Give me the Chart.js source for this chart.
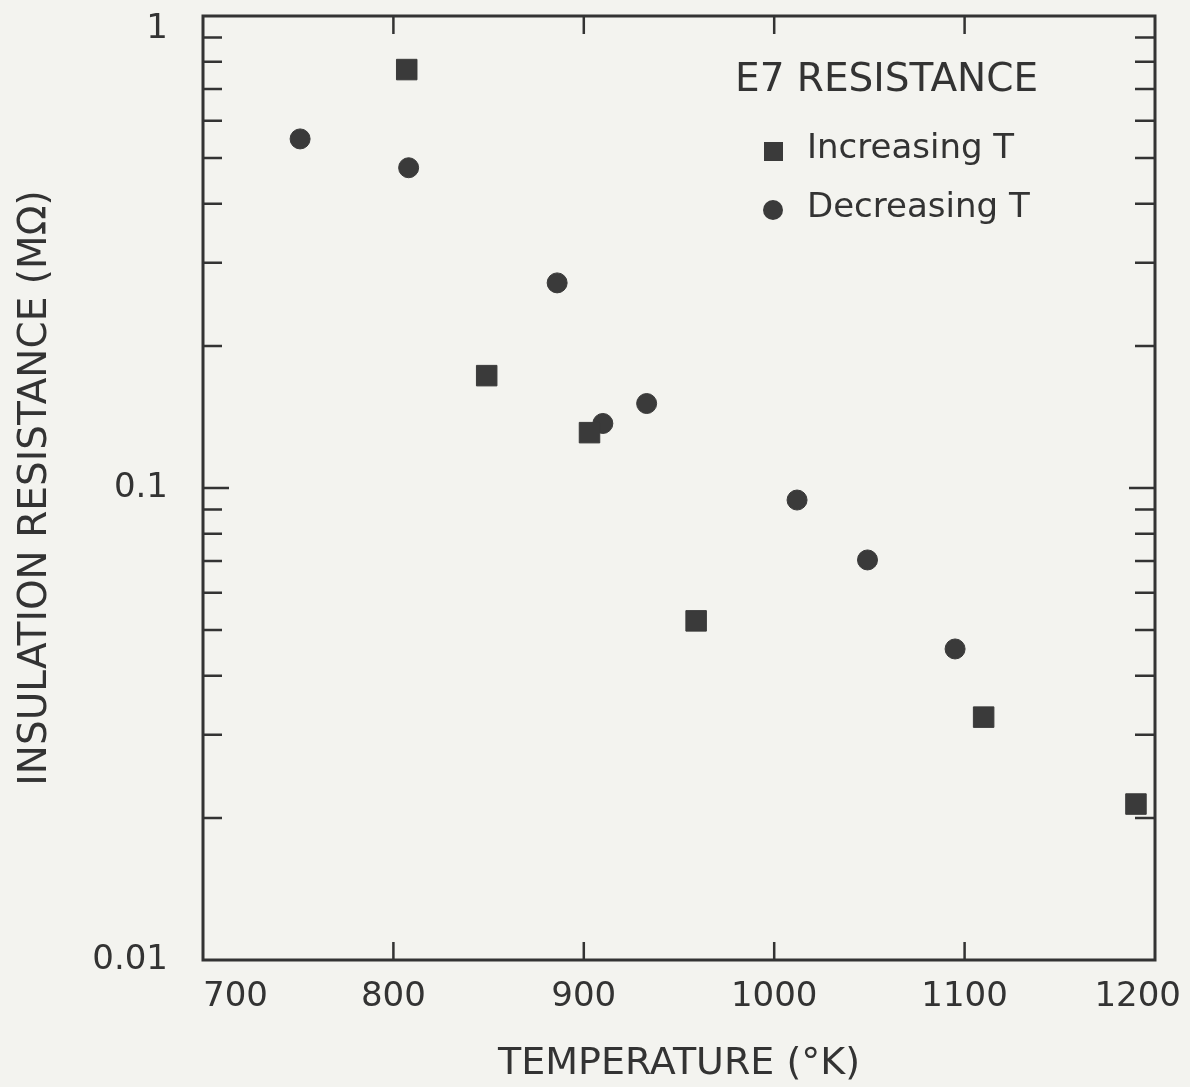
<!DOCTYPE html>
<html>
<head>
<meta charset="utf-8">
<script src="https://cdn.jsdelivr.net/npm/chart.js@4.4.1/dist/chart.umd.min.js"></script>
<style>
  html, body { margin: 0; padding: 0; background: #f3f3ef; }
  #chart { display: block; }
</style>
</head>
<body>
<canvas id="chart" width="1190" height="1087"></canvas>
<script>
// E7 insulation resistance vs temperature
var incTemp = [807, 849, 903, 959, 1110, 1190];
var incRes = [0.77, 0.173, 0.131, 0.0523, 0.0327, 0.0214];
var decTemp = [751, 808, 886, 910, 933, 1012, 1049, 1095];
var decRes = [0.549, 0.477, 0.272, 0.137, 0.151, 0.0943, 0.0704, 0.0456];

var xTicks = [700, 800, 900, 1000, 1100, 1200];
var yTicks = [0.01, 0.1, 1];
// inward tick marks
var xMarks = [800, 900, 1000, 1100];
var yMajor = [0.1];
var yMinor = [0.02, 0.03, 0.04, 0.05, 0.06, 0.07, 0.08, 0.09,
              0.2, 0.3, 0.4, 0.5, 0.6, 0.7, 0.8, 0.9];

var ink = '#333333';
var markColor = '#3a3a3a';
var fontFamily = "'DejaVu Sans', sans-serif";

function toPoints(xs, ys) {
  var pts = [];
  for (var i = 0; i < xs.length; i++) {
    pts.push({ x: xs[i], y: ys[i] });
  }
  return pts;
}

var framePlugin = {
  id: 'frame',
  beforeDraw: function(chart) {
    var ctx = chart.ctx;
    ctx.save();
    ctx.fillStyle = '#f3f3ef';
    ctx.fillRect(0, 0, chart.width, chart.height);
    ctx.restore();

    // nudge end labels like the original
    var xi = chart.scales.x.getLabelItems();
    var last = xi[xi.length - 1];
    if (last && !last._moved) { last.options.translation[0] += 26; last._moved = true; }
    var yi = chart.scales.y.getLabelItems();
    var top = yi[yi.length - 1];
    if (top && !top._moved) { top.options.translation[1] += 13; top._moved = true; }
  },
  beforeDatasetsDraw: function(chart) {
    var ctx = chart.ctx;
    var a = chart.chartArea;
    var xs = chart.scales.x, ys = chart.scales.y;
    ctx.save();
    ctx.strokeStyle = ink;
    ctx.lineWidth = 2.5;
    ctx.beginPath();
    yMinor.forEach(function(v) {
      var py = ys.getPixelForValue(v);
      ctx.moveTo(a.left, py); ctx.lineTo(a.left + 19, py);
      ctx.moveTo(a.right, py); ctx.lineTo(a.right - 20, py);
    });
    yMajor.forEach(function(v) {
      var py = ys.getPixelForValue(v);
      ctx.moveTo(a.left, py); ctx.lineTo(a.left + 26, py);
      ctx.moveTo(a.right, py); ctx.lineTo(a.right - 26, py);
    });
    xMarks.forEach(function(v) {
      var px = xs.getPixelForValue(v);
      ctx.moveTo(px, a.bottom); ctx.lineTo(px, a.bottom - 18);
      ctx.moveTo(px, a.top); ctx.lineTo(px, a.top + 18);
    });
    ctx.stroke();
    ctx.lineWidth = 3;
    ctx.strokeRect(a.left, a.top, a.right - a.left, a.bottom - a.top);
    ctx.restore();
  },
  afterDatasetsDraw: function(chart) {
    // legend box inside the plot, top right
    var ctx = chart.ctx;
    var a = chart.chartArea;
    var left = a.right - 420;
    ctx.save();
    ctx.fillStyle = ink;
    ctx.textBaseline = 'middle';
    ctx.textAlign = 'left';
    ctx.font = '39px ' + fontFamily;
    ctx.fillText('E7 RESISTANCE', left, a.top + 65);

    var rows = [a.top + 135, a.top + 194];
    ctx.font = '34px ' + fontFamily;
    chart.data.datasets.forEach(function(ds, i) {
      var cy = rows[i];
      ctx.fillStyle = markColor;
      if (ds.pointStyle === 'rect') {
        ctx.fillRect(left + 29, cy - 9, 19, 19);
      } else {
        ctx.beginPath();
        ctx.arc(left + 38, cy, 10, 0, Math.PI * 2);
        ctx.fill();
      }
      ctx.fillStyle = ink;
      ctx.fillText(ds.label, left + 72, cy - 2);
    });
    ctx.restore();
  }
};

var ctx = document.getElementById('chart');

new Chart(ctx, {
  type: 'scatter',
  data: {
    datasets: [
      {
        label: 'Increasing T',
        data: toPoints(incTemp, incRes),
        pointStyle: 'rect',
        pointRadius: 14.5,
        backgroundColor: markColor,
        borderColor: markColor,
        borderWidth: 1
      },
      {
        label: 'Decreasing T',
        data: toPoints(decTemp, decRes),
        pointStyle: 'circle',
        pointRadius: 10,
        backgroundColor: markColor,
        borderColor: markColor,
        borderWidth: 1
      }
    ]
  },
  options: {
    responsive: false,
    devicePixelRatio: 1,
    animation: false,
    events: [],
    layout: { padding: { left: 0, right: 35, top: 16, bottom: 0 } },
    plugins: {
      legend: { display: false },
      tooltip: { enabled: false }
    },
    scales: {
      x: {
        type: 'linear',
        min: 700,
        max: 1200,
        afterBuildTicks: function(scale) {
          scale.ticks = xTicks.map(function(v) { return { value: v }; });
        },
        afterFit: function(scale) { scale.height = 127; },
        grid: { display: false, drawTicks: false },
        border: { display: false },
        ticks: {
          align: 'inner',
          padding: 17,
          color: ink,
          font: { family: fontFamily, size: 34 },
          callback: function(v) { return String(v); }
        },
        title: {
          display: true,
          text: 'TEMPERATURE (°K)',
          color: ink,
          font: { family: fontFamily, size: 38 },
          padding: { top: 0, bottom: 0 }
        }
      },
      y: {
        type: 'logarithmic',
        min: 0.01,
        max: 1,
        afterBuildTicks: function(scale) {
          scale.ticks = yTicks.map(function(v) { return { value: v }; });
        },
        afterFit: function(scale) { scale.width = 203; },
        // invisible tick lines only hold the labels away from the frame
        grid: {
          display: true,
          drawOnChartArea: false,
          drawTicks: true,
          tickLength: 35,
          color: 'rgba(0,0,0,0)'
        },
        border: { display: false },
        ticks: {
          padding: 0,
          color: ink,
          font: { family: fontFamily, size: 34, lineHeight: 0.9 },
          callback: function(v) { return String(v); }
        },
        title: {
          display: true,
          text: 'INSULATION RESISTANCE (MΩ)',
          color: ink,
          font: { family: fontFamily, size: 39 },
          padding: { top: 12, bottom: 0 }
        }
      }
    }
  },
  plugins: [framePlugin]
});
</script>
</body>
</html>
